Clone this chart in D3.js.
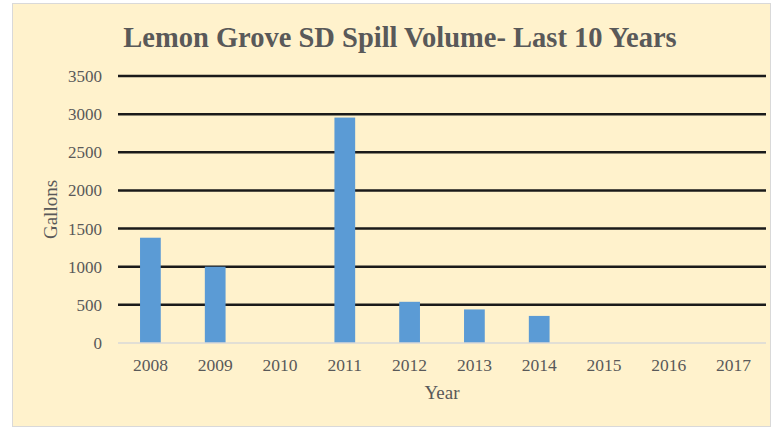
<!DOCTYPE html>
<html>
<head>
<meta charset="utf-8">
<script src="https://cdn.jsdelivr.net/npm/d3@7"></script>
<style>
  body { margin: 0; background: #ffffff; }
  text { font-family: "Liberation Serif", "Times New Roman", serif; fill: #595959; }
</style>
</head>
<body>
<div id="chart"></div>
<script>
var years = ["2008", "2009", "2010", "2011", "2012", "2013", "2014", "2015", "2016", "2017"];
var gallons = [1380, 1000, 0, 2955, 540, 440, 355, 0, 0, 0];
var yTicks = [0, 500, 1000, 1500, 2000, 2500, 3000, 3500];

var svg = d3.select("#chart").append("svg")
    .attr("width", 777)
    .attr("height", 429);

// chart area background
svg.append("rect")
    .attr("x", 12.5).attr("y", 3.5)
    .attr("width", 758).attr("height", 423)
    .attr("fill", "#fff2cc")
    .attr("stroke", "#d9d9d9");

var margin = { top: 76, right: 11, bottom: 86, left: 118 },
    width = 777 - margin.left - margin.right,
    height = 429 - margin.top - margin.bottom,
    g = svg.append("g").attr("transform", "translate(" + margin.left + "," + margin.top + ")");

var x = d3.scaleBand()
    .domain(years)
    .range([0, width])
    .paddingInner(0.68)
    .paddingOuter(0.34);

var y = d3.scaleLinear()
    .domain([0, 3500])
    .range([height, 0]);

// gridlines
g.selectAll(".grid")
    .data(yTicks.filter(function (d) { return d > 0; }))
    .enter().append("line")
    .attr("x1", 0).attr("x2", width)
    .attr("y1", function (d) { return y(d); })
    .attr("y2", function (d) { return y(d); })
    .attr("stroke", "#1a1a1a")
    .attr("stroke-width", 2.5);

// bars
g.selectAll(".bar")
    .data(gallons)
    .enter().append("rect")
    .attr("x", function (d, i) { return x(years[i]); })
    .attr("y", function (d) { return y(d); })
    .attr("width", x.bandwidth())
    .attr("height", function (d) { return height - y(d); })
    .attr("fill", "#5b9bd5");

// zero line
g.append("line")
    .attr("x1", 0).attr("x2", width)
    .attr("y1", y(0)).attr("y2", y(0))
    .attr("stroke", "#d9d9d9")
    .attr("stroke-width", 1.5);

// y tick labels
g.selectAll(".ylab")
    .data(yTicks)
    .enter().append("text")
    .attr("x", -16)
    .attr("y", function (d) { return y(d); })
    .attr("dy", "0.35em")
    .attr("text-anchor", "end")
    .style("font-size", "17px")
    .text(function (d) { return d; });

// x tick labels
g.selectAll(".xlab")
    .data(years)
    .enter().append("text")
    .attr("x", function (d) { return x(d) + x.bandwidth() / 2; })
    .attr("y", height + 28)
    .attr("text-anchor", "middle")
    .style("font-size", "17.5px")
    .text(function (d) { return d; });

// axis titles
svg.append("text")
    .attr("x", margin.left + width / 2)
    .attr("y", 399)
    .attr("text-anchor", "middle")
    .style("font-size", "19px")
    .text("Year");

svg.append("text")
    .attr("transform", "translate(57," + (margin.top + height / 2) + ") rotate(-90)")
    .attr("text-anchor", "middle")
    .style("font-size", "19px")
    .text("Gallons");

// title
svg.append("text")
    .attr("x", 400)
    .attr("y", 47)
    .attr("text-anchor", "middle")
    .style("font-size", "28.5px")
    .style("font-weight", "bold")
    .text("Lemon Grove SD Spill Volume- Last 10 Years");
</script>
</body>
</html>
